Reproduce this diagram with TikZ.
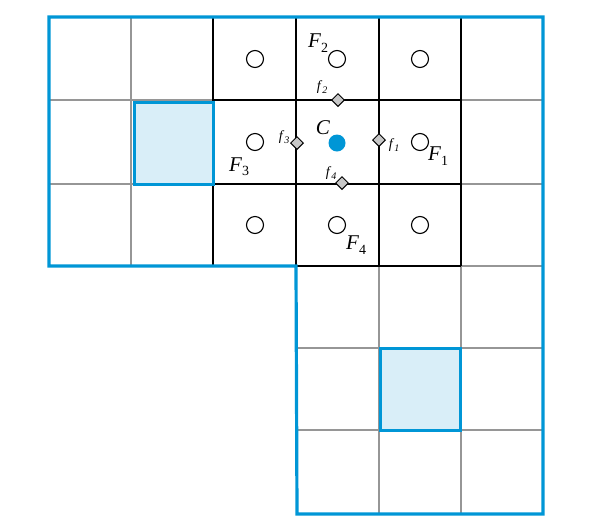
\documentclass[tikz,border=0pt]{standalone}
\usepackage{fontspec}
\setmainfont{Liberation Serif}
\usetikzlibrary{shapes.geometric}
\definecolor{bblue}{RGB}{0,150,214}
\definecolor{lblue}{RGB}{217,238,248}
\definecolor{ggray}{RGB}{150,150,150}
\newcommand\bigF[2]{\textit{#1}\raisebox{-0.45ex}{\fontsize{14}{14}\selectfont #2}}
\newcommand\smf[2]{\textit{#1}\raisebox{-0.45ex}{\fontsize{10}{10}\selectfont\textit{#2}}}
\begin{document}
\begin{tikzpicture}[x=1pt,y=-1pt,
  graygrid/.style={draw=ggray,line width=1.3pt},
  blackgrid/.style={draw=black,line width=1.6pt},
  outline/.style={draw=bblue,line width=3.2pt,line join=miter},
  hilite/.style={draw=bblue,fill=lblue,line width=3pt},
  cell/.style={circle,draw=black,line width=1.1pt,minimum size=17pt,inner sep=0pt},
  flux/.style={diamond,draw=black,fill=black!22,line width=1pt,minimum size=13pt,inner sep=0pt},
  centre/.style={circle,fill=bblue,minimum size=17pt,inner sep=0pt},
  bigl/.style={font=\fontsize{21}{21}\selectfont,inner sep=0pt},
  smalll/.style={font=\fontsize{14}{14}\selectfont,inner sep=0pt}]
\useasboundingbox (0,0) rectangle (613,531);
% gray grids
\foreach \x in {131,213,296,379,461} \draw[graygrid] (\x,17) -- (\x,266);
\foreach \y in {100,184} \draw[graygrid] (49,\y) -- (543,\y);
\foreach \x in {379,461} \draw[graygrid] (\x,266) -- (\x,513);
\foreach \y in {266,348,430} \draw[graygrid] (296,\y) -- (543,\y);
% black 3x3
\foreach \x in {213,296,379,461} \draw[blackgrid] (\x,17) -- (\x,266);
\foreach \y in {17,100,184,266} \draw[blackgrid] (213,\y) -- (461,\y);
% highlighted cells
\draw[hilite] (134,102) rectangle (213,184);
\draw[hilite] (380,348) rectangle (460,430);
% outline
\draw[outline] (49,17) -- (543,17) -- (543,514) -- (297,514) -- (296,266) -- (49,266) -- cycle;
% cell centres
\foreach \i/\x in {1/255,2/337,3/420}
  \foreach \j/\y in {1/59,3/225}
    \node[cell] (c\i\j) at (\x,\y) {};
\node[cell] (c12) at (255,142) {};
\node[cell] (c32) at (420,142) {};
\node[centre] (C) at (337,143) {};
% faces
\node[flux] (f1) at (379,140) {};
\node[flux] (f2) at (338,100) {};
\node[flux] (f3) at (297,143) {};
\node[flux] (f4) at (342,183) {};
% labels
\node[bigl] (lC) at (323,128) {\textit{C}};
\node[bigl] (lF1) at (438,156) {\bigF{F}{1}};
\node[bigl] (lF2) at (318,43) {\bigF{F}{2}};
\node[bigl] (lF3) at (239,167) {\bigF{F}{3}};
\node[bigl] (lF4) at (356,245) {\bigF{F}{4}};
\node[smalll] (lf1) at (394,145) {\smf{f}{1}};
\node[smalll] (lf2) at (322,87) {\smf{f}{2}};
\node[smalll] (lf3) at (284,137) {\smf{f}{3}};
\node[smalll] (lf4) at (331,173) {\smf{f}{4}};
\end{tikzpicture}
\end{document}
